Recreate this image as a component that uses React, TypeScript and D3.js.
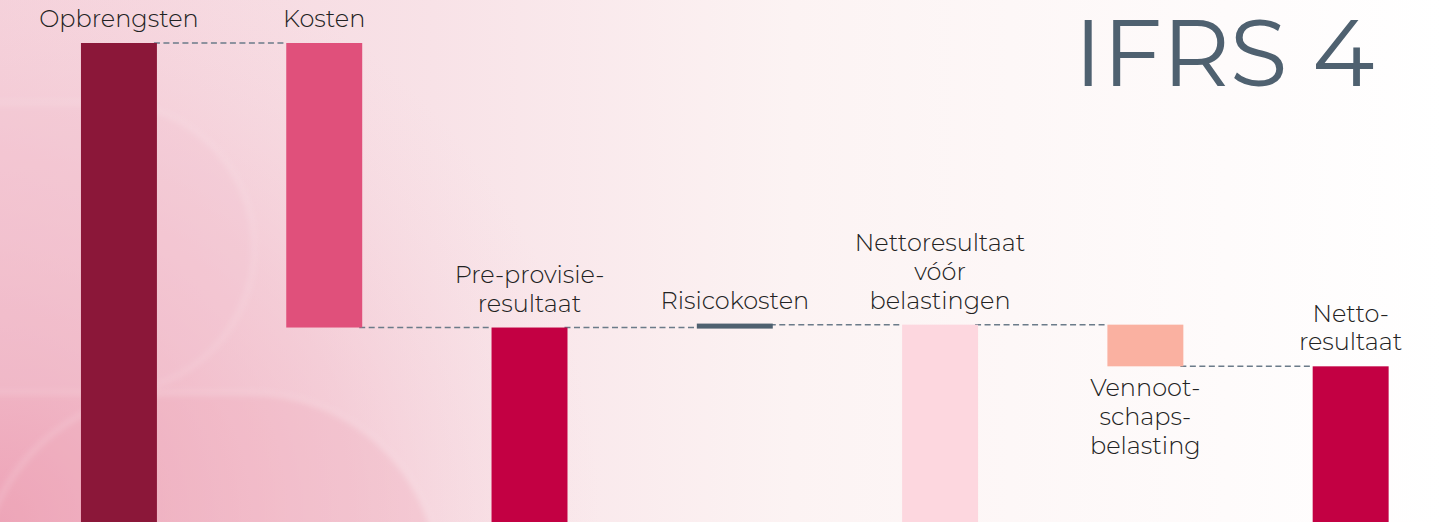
import * as d3 from 'd3';
import React, { useEffect, useRef } from 'react';

const categories = [
  'Opbrengsten',
  'Kosten',
  'Pre-provisie-resultaat',
  'Risicokosten',
  'Nettoresultaat vóór belastingen',
  'Vennootschapsbelasting',
  'Nettoresultaat',
];
const labelLines = [
  ['Opbrengsten'],
  ['Kosten'],
  ['Pre-provisie-', 'resultaat'],
  ['Risicokosten'],
  ['Nettoresultaat', 'vóór', 'belastingen'],
  ['Vennoot-', 'schaps-', 'belasting'],
  ['Netto-', 'resultaat'],
];
// total = bar from zero, delta = floating step
const kinds = ['total', 'delta', 'total', 'delta', 'total', 'delta', 'total'];
const values = [100, -59.4, 40.6, 0.6, 41.2, -8.7, 32.5];
const labelBelow = [false, false, false, false, false, true, false];
const colors = ['#8B1739', '#E0507B', '#C30043', '#4F6170', '#FDD7DF', '#FAB1A1', '#C30043'];

const W = 1443;
const H = 522;
const font = "Montserrat, 'DejaVu Sans', sans-serif";

const App = () => {
  const svgRef = useRef(null);

  useEffect(() => {
    const svg = d3.select(svgRef.current);
    svg.selectAll('*').remove();

    // background
    const defs = svg.append('defs');
    const bg = defs.append('linearGradient').attr('id', 'bg').attr('x1', 0).attr('x2', 1).attr('y1', 0).attr('y2', 0);
    bg.append('stop').attr('offset', 0).attr('stop-color', '#F5D3DC');
    bg.append('stop').attr('offset', 0.3).attr('stop-color', '#F8E2E7');
    bg.append('stop').attr('offset', 0.55).attr('stop-color', '#FCF3F3');
    bg.append('stop').attr('offset', 1).attr('stop-color', '#FFFFFF');
    const rad = defs.append('radialGradient').attr('id', 'glow').attr('gradientUnits', 'userSpaceOnUse')
      .attr('cx', 0).attr('cy', H).attr('r', 600);
    rad.append('stop').attr('offset', 0).attr('stop-color', '#EC9AB0').attr('stop-opacity', 0.85);
    rad.append('stop').attr('offset', 0.6).attr('stop-color', '#F0B4C4').attr('stop-opacity', 0.4);
    rad.append('stop').attr('offset', 1).attr('stop-color', '#F5D0DA').attr('stop-opacity', 0);
    defs.append('filter').attr('id', 'soft').append('feGaussianBlur').attr('stdDeviation', 3);

    svg.append('rect').attr('width', W).attr('height', H).attr('fill', 'url(#bg)');
    svg.append('rect').attr('width', W).attr('height', H).attr('fill', 'url(#glow)');
    svg.append('rect')
      .attr('x', -220).attr('y', 103).attr('width', 474).attr('height', 290).attr('rx', 145)
      .attr('fill', '#F3C3CF').attr('fill-opacity', 0.3)
      .attr('stroke', '#ffffff').attr('stroke-opacity', 0.2).attr('stroke-width', 3)
      .attr('filter', 'url(#soft)');
    svg.append('rect')
      .attr('x', -20).attr('y', 393).attr('width', 460).attr('height', 400).attr('rx', 190)
      .attr('fill', '#EFA9BB').attr('fill-opacity', 0.3)
      .attr('stroke', '#ffffff').attr('stroke-opacity', 0.25).attr('stroke-width', 3)
      .attr('filter', 'url(#soft)');

    const x = d3.scaleBand().domain(categories).range([16.3, 1453.3]).paddingInner(0.63).paddingOuter(0.315);
    const y = d3.scaleLinear().domain([0, 100]).range([522, 43]);

    let running = 0;
    const bars = categories.map((c, i) => {
      let start: number;
      let end: number;
      if (kinds[i] === 'total') {
        start = 0;
        end = values[i];
      } else {
        start = running;
        end = running + values[i];
      }
      running = end;
      return { c, i, start, end };
    });

    const g = svg.append('g');

    // connectors
    g.selectAll('line.conn')
      .data(bars.slice(0, -1))
      .enter()
      .append('line')
      .attr('x1', (d) => (x(d.c) as number) + x.bandwidth() - 3)
      .attr('x2', (d) => x(categories[d.i + 1]) as number)
      .attr('y1', (d) => y(d.end))
      .attr('y2', (d) => y(d.end))
      .attr('stroke', '#6B7B89')
      .attr('stroke-width', 1.5)
      .attr('stroke-dasharray', '6 3.5');

    g.selectAll('rect.bar')
      .data(bars)
      .enter()
      .append('rect')
      .attr('x', (d) => x(d.c) as number)
      .attr('width', x.bandwidth())
      .attr('y', (d) => {
        const top = Math.min(y(d.start), y(d.end));
        const h = Math.abs(y(d.start) - y(d.end));
        return h < 5 ? top + h / 2 - 2.5 : top;
      })
      .attr('height', (d) => Math.max(5, Math.abs(y(d.start) - y(d.end))))
      .attr('fill', (d) => colors[d.i]);

    // labels
    const lh = 28.7;
    bars.forEach((d) => {
      const cx = (x(d.c) as number) + x.bandwidth() / 2;
      const top = Math.min(y(d.start), y(d.end));
      const bottom = Math.max(y(d.start), y(d.end));
      const lines = labelLines[d.i];
      const t = g.append('text')
        .attr('text-anchor', 'middle')
        .attr('font-family', font)
        .attr('font-weight', 300)
        .attr('font-size', 24)
        .attr('fill', '#222222');
      lines.forEach((ln, k) => {
        const by = labelBelow[d.i]
          ? bottom + 30 + k * lh
          : top - 16 - (lines.length - 1 - k) * lh;
        t.append('tspan').attr('x', cx).attr('y', by).text(ln);
      });
    });

    svg.append('text')
      .attr('x', 1074)
      .attr('y', 86)
      .attr('font-family', font)
      .attr('font-size', 94)
      .attr('fill', '#4F6170')
      .text('IFRS 4');
  }, []);

  return <svg ref={svgRef} width={W} height={H} style={{ position: 'absolute', left: 0, top: 0 }} />;
};

export default App;
